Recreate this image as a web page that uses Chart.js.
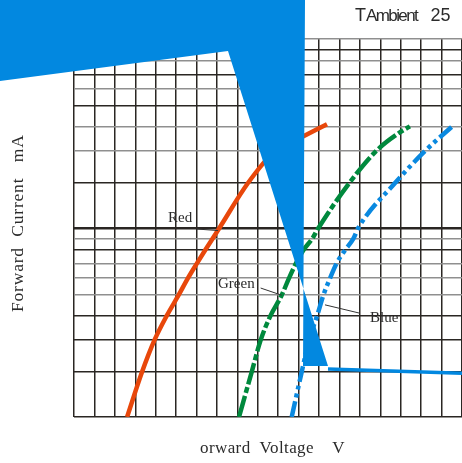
<!DOCTYPE html>
<html><head><meta charset="utf-8">
<script src="https://cdn.jsdelivr.net/npm/chart.js@4.4.1/dist/chart.umd.min.js"></script>
<style>
html,body{margin:0;padding:0;background:#fff;}
#wrap{position:relative;width:462px;height:463px;overflow:hidden;background:#fff;}
canvas{position:absolute;left:0;top:0;}
.t{position:absolute;white-space:pre;line-height:1;color:#2b2b2b;}
.serif{font-family:"Liberation Serif","DejaVu Serif",serif;}
.sans{font-family:"Liberation Sans",Arial,sans-serif;}
</style></head>
<body>
<div id="wrap">
<canvas id="c" width="462" height="463"></canvas>
<div class="t sans" style="left:355px;top:5.5px;font-size:18px;">T<span style="letter-spacing:-1.6px;font-size:17px">Ambient</span></div>
<div class="t sans" style="left:430.5px;top:5.5px;font-size:18px;">25</div>
<div class="t serif" style="left:8.6px;top:312px;font-size:17.5px;letter-spacing:0.8px;transform-origin:0 0;transform:rotate(-90deg);">Forward  Current   mA</div>
<div class="t serif" style="left:200px;top:438.5px;font-size:17px;letter-spacing:0.4px;">orward  Voltage    V</div>
<div class="t serif" style="left:168px;top:210px;font-size:15px;">Red</div>
<div class="t serif" style="left:218px;top:275.7px;font-size:15px;">Green</div>
<div class="t serif" style="left:370px;top:310.1px;font-size:15px;">Blue</div>
</div>
<script>
// ---- data ----
const voltageGrid = [1.4,1.5,1.6,1.7,1.8,1.9,2.0,2.1,2.2,2.3,2.4,2.5,2.6,2.7,2.8,2.9,3.0,3.1,3.2,3.3];
const currentGrid = [1,2,3,4,5,6,7,8,9,10,20,30,40,50,60,70,80,90,100];

const redVoltage   = [1.660,1.733,1.794,1.855,1.912,1.958,2.002,2.042,2.112,2.252,2.384,2.507,2.639];
const redCurrent   = [1,2,3,4,5,6,7,8,10,20,30,35,41];

const greenVoltage = [2.208,2.270,2.314,2.363,2.417,2.453,2.487,2.523,2.567,2.597,2.748,2.879,2.996,3.045];
const greenCurrent = [1,2,3,4,5,6,7,8,9,10,20,30,37.4,40];

const blueVoltage  = [2.466,2.515,2.551,2.591,2.621,2.654,2.686,2.727,2.768,2.792,2.972,3.118,3.258];
const blueCurrent  = [1,2,3,4,5,6,7,8,9,10,20,30,40.5];

// leader lines for labels
const redLeaderV = [2.000,2.105];   const redLeaderI = [9.9,9.75];
const greenLeaderV = [2.314,2.417]; const greenLeaderI = [5.4,5.0];
const blueLeaderV = [2.629,2.800];  const blueLeaderI = [4.5,4.1];

const darkLines = [1,2,3,4,8,10,20,50,70,90];

// ---- custom scale reproducing the chart's (non-uniform) log grid ----
class WarpedLogScale extends Chart.LogarithmicScale {
  warp(v){
    const e = Math.floor(Math.log10(v) + 1e-9);
    const m = v / Math.pow(10, e);
    return e + Math.log10((m + 1) / 2) / Math.log10(5.5);
  }
  unwarp(w){
    const e = Math.floor(w + 1e-9);
    const f = w - e;
    return (2 * Math.pow(5.5, f) - 1) * Math.pow(10, e);
  }
  getPixelForValue(value){
    if (value === undefined || value === 0) value = this.min;
    if (value === null || isNaN(value)) return NaN;
    const a = this.warp(this.min), b = this.warp(this.max);
    return this.getPixelForDecimal((this.warp(value) - a) / (b - a));
  }
  getValueForPixel(pixel){
    const a = this.warp(this.min), b = this.warp(this.max);
    return this.unwarp(a + this.getDecimalForPixel(pixel) * (b - a));
  }
}
WarpedLogScale.id = 'warpedLog';
WarpedLogScale.defaults = Chart.LogarithmicScale.defaults;
Chart.register(WarpedLogScale);

const pts = (xs, ys) => xs.map((x, i) => ({x: x, y: ys[i]}));

const overlay = {
  id: 'overlay',
  afterDatasetsDraw(chart){
    const c = chart.ctx;
    c.save();
    c.fillStyle = '#0288e0';
    c.beginPath();
    c.moveTo(0,0); c.lineTo(305,0); c.lineTo(303,366); c.lineTo(328,366); c.lineTo(228,51); c.lineTo(0,81);
    c.closePath();
    c.fill();
    c.strokeStyle = '#0288e0';
    c.lineWidth = 3.6;
    c.beginPath(); c.moveTo(328,369); c.lineTo(462,373.3); c.stroke();
    c.restore();
  }
};

const leaderStyle = {borderColor:'#333', borderWidth:1, pointRadius:0, tension:0, fill:false};

new Chart(document.getElementById('c'), {
  type: 'line',
  data: { datasets: [
    Object.assign({label:'Red leader', data: pts(redLeaderV, redLeaderI)}, leaderStyle),
    Object.assign({label:'Green leader', data: pts(greenLeaderV, greenLeaderI)}, leaderStyle),
    Object.assign({label:'Blue leader', data: pts(blueLeaderV, blueLeaderI)}, leaderStyle),
    {label:'Red', data: pts(redVoltage, redCurrent), borderColor:'#e8470b', borderWidth:4.5, pointRadius:0, cubicInterpolationMode:'monotone', fill:false},
    {label:'Green', data: pts(greenVoltage, greenCurrent), borderColor:'#00893d', borderWidth:4.5, pointRadius:0, cubicInterpolationMode:'monotone', fill:false, borderDash:[22,3,6,3]},
    {label:'Blue', data: pts(blueVoltage, blueCurrent), borderColor:'#0a89e0', borderWidth:4.5, pointRadius:0, cubicInterpolationMode:'monotone', fill:false, borderDash:[16,4,4,4,4,4]}
  ]},
  options: {
    responsive: false,
    animation: false,
    layout: { padding: { left: 74, top: 39, right: 0, bottom: 46 } },
    plugins: { legend: {display:false}, tooltip: {enabled:false} },
    scales: {
      x: {
        type: 'linear', min: 1.4, max: 3.3,
        afterBuildTicks: s => { s.ticks = voltageGrid.map(v => ({value: v})); },
        ticks: { display: false },
        grid: { color: '#2a2623', lineWidth: 1.5, drawTicks: false },
        border: { display: false }
      },
      y: {
        type: 'warpedLog', min: 1, max: 100,
        afterBuildTicks: s => { s.ticks = currentGrid.map(v => ({value: v})); },
        ticks: { display: false },
        grid: {
          drawTicks: false,
          color: ctx => darkLines.includes(ctx.tick.value) ? '#2a2623' : '#8f8f8f',
          lineWidth: ctx => ctx.tick.value === 10 ? 2.5 : 1.5
        },
        border: { display: false }
      }
    }
  },
  plugins: [overlay]
});
</script>
</body></html>
